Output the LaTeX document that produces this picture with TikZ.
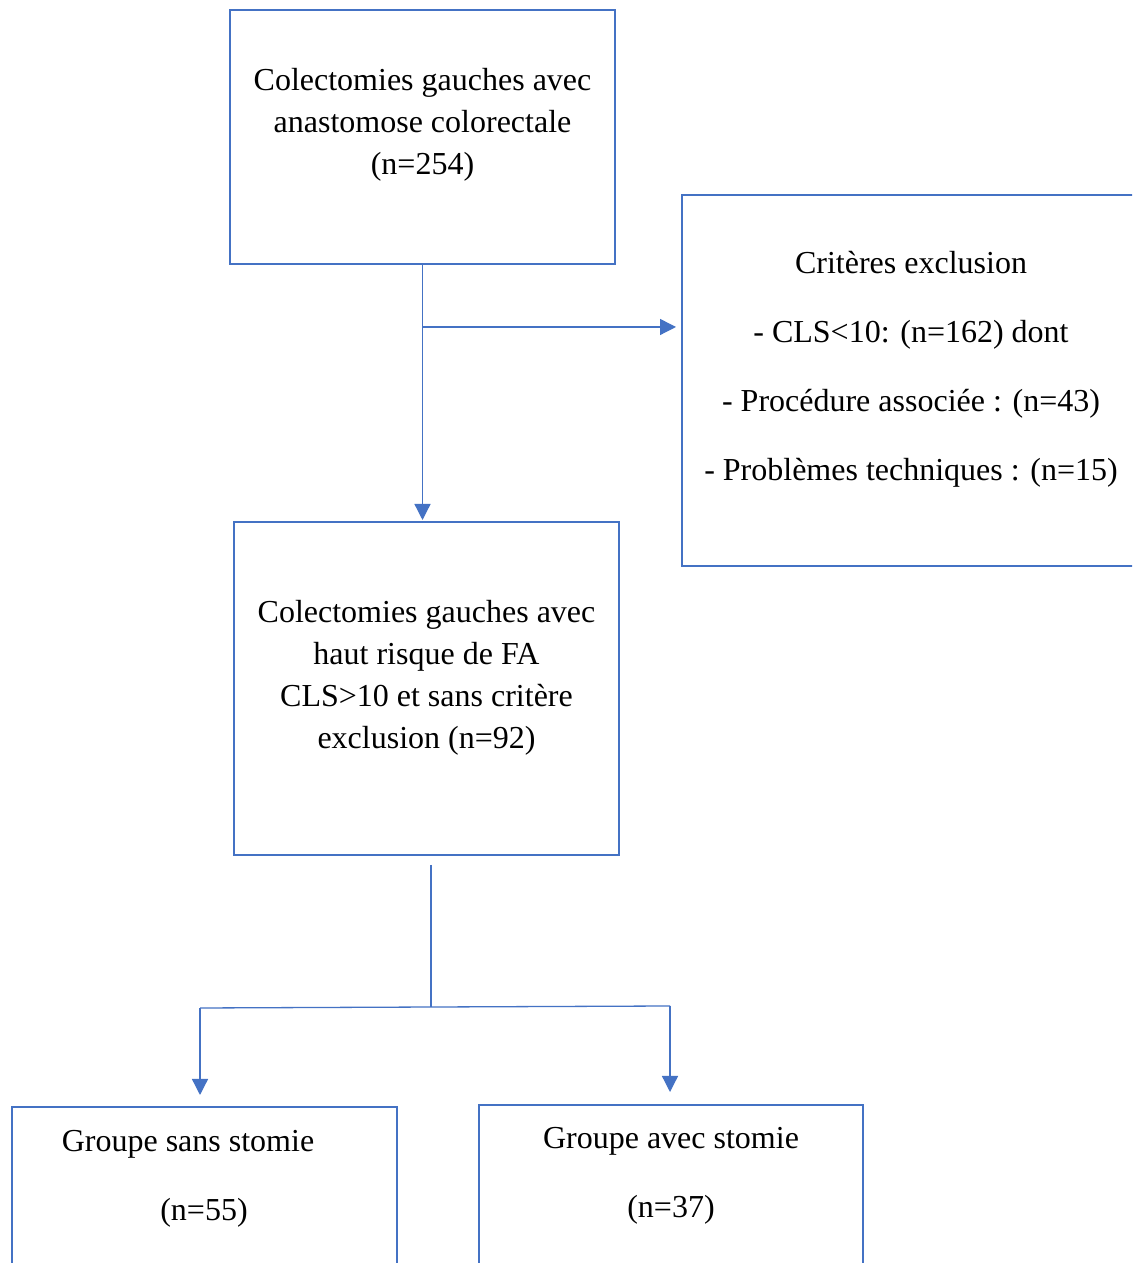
\documentclass[tikz,border=0pt]{standalone}
\usepackage{fontspec}
\setmainfont{Liberation Serif}
\usetikzlibrary{arrows.meta}
\begin{document}
\begin{tikzpicture}[x=1pt,y=1pt,
  box/.style={draw=drawColor,line width=2.5pt,inner sep=0pt,outer sep=0pt},
  txt/.style={text=black,align=center,inner sep=0pt,outer sep=0pt,font=\fontsize{32}{42}\selectfont},
  conn/.style={draw=drawColor,line width=1.3pt,-{Triangle[length=16pt,width=16pt]}},
  wire/.style={draw=drawColor,line width=1.3pt}]
\definecolor{drawColor}{RGB}{68,114,196}
\path[use as bounding box,fill=white] (0,0) rectangle (1132,1263);
\clip (0,0) rectangle (1132,1263);

% boxes
\node[box,minimum width=385,minimum height=254] (top) at (422.5,1126) {};
\node[box,minimum width=458,minimum height=371] (excl) at (911,882.5) {};
\node[box,minimum width=385,minimum height=333] (mid) at (426.5,574.5) {};
\node[box,minimum width=385,minimum height=200] (grpL) at (204.5,56) {};
\node[box,minimum width=384,minimum height=200] (grpR) at (671,58) {};

% texts
\node[txt] (topText) at (422.5,1138.5) {Colectomies gauches avec\\anastomose colorectale\\(n=254)};
\node[txt,font=\fontsize{32}{69}\selectfont] (exclText) at (911,893.5) {Critères exclusion\\- CLS<10: (n=162) dont\\- Procédure associée : (n=43)\\- Problèmes techniques : (n=15)};
\node[txt] (midText) at (426.5,585.5) {Colectomies gauches avec\\haut risque de FA\\CLS>10 et sans critère\\exclusion (n=92)};
\node[txt] (grpLText) at (188,119) {Groupe sans stomie};
\node[txt] (grpLNum) at (204,50) {(n=55)};
\node[txt] (grpRText) at (671,122) {Groupe avec stomie};
\node[txt] (grpRNum) at (671,53) {(n=37)};

% connectors
\coordinate (split) at (423,936);
\coordinate (stem) at (431,398);
\coordinate (fork) at (431,256);
\coordinate (forkL) at (200,255);
\coordinate (forkR) at (670,257);

\path[conn,shorten >=2pt] (top.south) -- (top.south |- mid.north);
\path[conn,shorten >=6pt] (split) -- (split -| excl.west);
\path[wire] (stem) -- (fork);
\path[wire] (forkL) -- (forkR);
\path[conn,shorten >=12pt] (forkL) -- (forkL |- grpL.north);
\path[conn,shorten >=13pt] (forkR) -- (forkR |- grpR.north);
\end{tikzpicture}
\end{document}
